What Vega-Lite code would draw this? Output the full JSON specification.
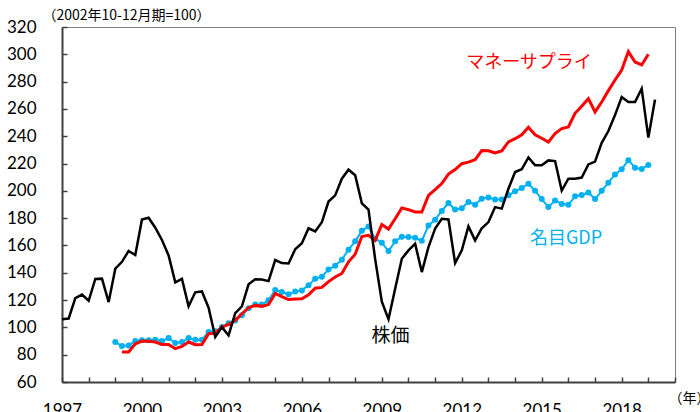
{
  "$schema": "https://vega.github.io/schema/vega-lite/v6.json",
  "width": 613,
  "height": 355,
  "autosize": {"type": "none"},
  "padding": {"left": 62, "top": 27, "right": 25, "bottom": 30},
  "background": "white",
  "config": {
    "view": {"stroke": "#808080", "strokeWidth": 1},
    "axis": {"grid": false}
  },
  "datasets": {
    "stock": [
      {"t":1997.0,"v":106},{"t":1997.25,"v":106.5},{"t":1997.5,"v":121.5},{"t":1997.75,"v":124},
      {"t":1998.0,"v":119.5},{"t":1998.25,"v":135.5},{"t":1998.5,"v":135.7},{"t":1998.75,"v":118.5},
      {"t":1999.0,"v":143},{"t":1999.25,"v":148},{"t":1999.5,"v":156},{"t":1999.75,"v":153},
      {"t":2000.0,"v":179},{"t":2000.25,"v":180.3},{"t":2000.5,"v":173},{"t":2000.75,"v":164},
      {"t":2001.0,"v":152.7},{"t":2001.25,"v":133},{"t":2001.5,"v":135.5},{"t":2001.75,"v":115.5},
      {"t":2002.0,"v":125.7},{"t":2002.25,"v":126.3},{"t":2002.5,"v":114.4},{"t":2002.75,"v":93},
      {"t":2003.0,"v":100.2},{"t":2003.25,"v":94.1},{"t":2003.5,"v":110.5},{"t":2003.75,"v":115.4},
      {"t":2004.0,"v":131.5},{"t":2004.25,"v":135.2},{"t":2004.5,"v":135},{"t":2004.75,"v":133.9},
      {"t":2005.0,"v":149.3},{"t":2005.25,"v":147.1},{"t":2005.5,"v":146.8},{"t":2005.75,"v":157.2},
      {"t":2006.0,"v":161.6},{"t":2006.25,"v":172.6},{"t":2006.5,"v":170.3},{"t":2006.75,"v":177.1},
      {"t":2007.0,"v":192.2},{"t":2007.25,"v":196.7},{"t":2007.5,"v":208.9},{"t":2007.75,"v":215.5},
      {"t":2008.0,"v":211.4},{"t":2008.25,"v":190.8},{"t":2008.5,"v":186.2},{"t":2008.75,"v":150},
      {"t":2009.0,"v":118.8},{"t":2009.25,"v":106},{"t":2009.5,"v":128.3},{"t":2009.75,"v":150.3},
      {"t":2010.0,"v":156.4},{"t":2010.25,"v":161.3},{"t":2010.5,"v":140.5},{"t":2010.75,"v":158.8},
      {"t":2011.0,"v":172.3},{"t":2011.25,"v":179.6},{"t":2011.5,"v":179.1},{"t":2011.75,"v":147.1},
      {"t":2012.0,"v":156.4},{"t":2012.25,"v":174},{"t":2012.5,"v":163.7},{"t":2012.75,"v":172.6},
      {"t":2013.0,"v":177.1},{"t":2013.25,"v":188.1},{"t":2013.5,"v":187},{"t":2013.75,"v":201.5},
      {"t":2014.0,"v":213.8},{"t":2014.25,"v":215.8},{"t":2014.5,"v":224.5},{"t":2014.75,"v":218.7},
      {"t":2015.0,"v":218.7},{"t":2015.25,"v":222.3},{"t":2015.5,"v":221.8},{"t":2015.75,"v":200.2},
      {"t":2016.0,"v":208.9},{"t":2016.25,"v":208.9},{"t":2016.5,"v":209.7},{"t":2016.75,"v":219.4},
      {"t":2017.0,"v":221.4},{"t":2017.25,"v":235.2},{"t":2017.5,"v":243.8},{"t":2017.75,"v":255.5},
      {"t":2018.0,"v":268.7},{"t":2018.25,"v":265.1},{"t":2018.5,"v":265.1},{"t":2018.75,"v":274.9},
      {"t":2019.0,"v":239},{"t":2019.25,"v":266.8}
    ],
    "money": [
      {"t":1999.25,"v":82},{"t":1999.5,"v":82},{"t":1999.75,"v":88},
      {"t":2000.0,"v":90},{"t":2000.25,"v":89.8},{"t":2000.5,"v":89.3},{"t":2000.75,"v":87.5},
      {"t":2001.0,"v":87.5},{"t":2001.25,"v":84.4},{"t":2001.5,"v":86},{"t":2001.75,"v":89.3},
      {"t":2002.0,"v":87.3},{"t":2002.25,"v":87.5},{"t":2002.5,"v":95.4},{"t":2002.75,"v":95.8},
      {"t":2003.0,"v":100.2},{"t":2003.25,"v":102.2},{"t":2003.5,"v":105.1},{"t":2003.75,"v":110},
      {"t":2004.0,"v":114.4},{"t":2004.25,"v":116.1},{"t":2004.5,"v":115.4},{"t":2004.75,"v":116.8},
      {"t":2005.0,"v":124.9},{"t":2005.25,"v":122.5},{"t":2005.5,"v":120.4},{"t":2005.75,"v":120.8},
      {"t":2006.0,"v":121},{"t":2006.25,"v":123.8},{"t":2006.5,"v":128.7},{"t":2006.75,"v":129.3},
      {"t":2007.0,"v":133.5},{"t":2007.25,"v":136.9},{"t":2007.5,"v":139.5},{"t":2007.75,"v":148},
      {"t":2008.0,"v":153.5},{"t":2008.25,"v":166.5},{"t":2008.5,"v":167.4},{"t":2008.75,"v":163.7},
      {"t":2009.0,"v":175.3},{"t":2009.25,"v":172},{"t":2009.5,"v":179.6},{"t":2009.75,"v":187.5},
      {"t":2010.0,"v":186.2},{"t":2010.25,"v":184.5},{"t":2010.5,"v":184.5},{"t":2010.75,"v":196.7},
      {"t":2011.0,"v":200.9},{"t":2011.25,"v":205.3},{"t":2011.5,"v":212.3},{"t":2011.75,"v":215.6},
      {"t":2012.0,"v":219.9},{"t":2012.25,"v":221},{"t":2012.5,"v":222.8},{"t":2012.75,"v":229.5},
      {"t":2013.0,"v":229.4},{"t":2013.25,"v":227.8},{"t":2013.5,"v":229.2},{"t":2013.75,"v":235.8},
      {"t":2014.0,"v":238.2},{"t":2014.25,"v":241},{"t":2014.5,"v":246.5},{"t":2014.75,"v":241},
      {"t":2015.0,"v":238.5},{"t":2015.25,"v":235.8},{"t":2015.5,"v":241.9},{"t":2015.75,"v":245.6},
      {"t":2016.0,"v":246.8},{"t":2016.25,"v":256.8},{"t":2016.5,"v":261.9},{"t":2016.75,"v":267.5},
      {"t":2017.0,"v":257.8},{"t":2017.25,"v":265.1},{"t":2017.5,"v":273.4},{"t":2017.75,"v":281.2},
      {"t":2018.0,"v":288.5},{"t":2018.25,"v":302},{"t":2018.5,"v":294.4},{"t":2018.75,"v":292.2},
      {"t":2019.0,"v":300}
    ],
    "gdp": [
      {"t":1999.0,"v":89.3},{"t":1999.25,"v":86.3},{"t":1999.5,"v":86.8},{"t":1999.75,"v":90},
      {"t":2000.0,"v":90.5},{"t":2000.25,"v":90.5},{"t":2000.5,"v":91},{"t":2000.75,"v":90},
      {"t":2001.0,"v":92.2},{"t":2001.25,"v":88.5},{"t":2001.5,"v":89.3},{"t":2001.75,"v":92.2},
      {"t":2002.0,"v":91},{"t":2002.25,"v":91},{"t":2002.5,"v":96.6},{"t":2002.75,"v":97.1},
      {"t":2003.0,"v":100.2},{"t":2003.25,"v":103.1},{"t":2003.5,"v":105.1},{"t":2003.75,"v":108.8},
      {"t":2004.0,"v":114.1},{"t":2004.25,"v":116.8},{"t":2004.5,"v":116.8},{"t":2004.75,"v":119.8},
      {"t":2005.0,"v":127.4},{"t":2005.25,"v":125.9},{"t":2005.5,"v":124.2},{"t":2005.75,"v":126.2},
      {"t":2006.0,"v":127.1},{"t":2006.25,"v":130.8},{"t":2006.5,"v":135.7},{"t":2006.75,"v":137.1},
      {"t":2007.0,"v":142.4},{"t":2007.25,"v":145.2},{"t":2007.5,"v":149.6},{"t":2007.75,"v":156.9},
      {"t":2008.0,"v":163},{"t":2008.25,"v":170.8},{"t":2008.5,"v":173.8},{"t":2008.75,"v":165},
      {"t":2009.0,"v":162},{"t":2009.25,"v":155.9},{"t":2009.5,"v":163},{"t":2009.75,"v":166.4},
      {"t":2010.0,"v":166.2},{"t":2010.25,"v":165.6},{"t":2010.5,"v":163.4},{"t":2010.75,"v":174.7},
      {"t":2011.0,"v":178.9},{"t":2011.25,"v":185.3},{"t":2011.5,"v":191.1},{"t":2011.75,"v":186.3},
      {"t":2012.0,"v":187.2},{"t":2012.25,"v":191.8},{"t":2012.5,"v":189.8},{"t":2012.75,"v":194.3},
      {"t":2013.0,"v":195.2},{"t":2013.25,"v":193.6},{"t":2013.5,"v":193.6},{"t":2013.75,"v":196.7},
      {"t":2014.0,"v":199.7},{"t":2014.25,"v":202},{"t":2014.5,"v":205.2},{"t":2014.75,"v":200.1},
      {"t":2015.0,"v":194},{"t":2015.25,"v":188.1},{"t":2015.5,"v":193},{"t":2015.75,"v":190.4},
      {"t":2016.0,"v":189.8},{"t":2016.25,"v":196},{"t":2016.5,"v":197},{"t":2016.75,"v":198.8},
      {"t":2017.0,"v":194},{"t":2017.25,"v":200},{"t":2017.5,"v":206},{"t":2017.75,"v":212},
      {"t":2018.0,"v":215.8},{"t":2018.25,"v":222.5},{"t":2018.5,"v":217},{"t":2018.75,"v":216},
      {"t":2019.0,"v":219}
    ]
  },
  "encoding": {
    "x": {
      "field": "t", "type": "quantitative",
      "scale": {"domain": [1997, 2020], "nice": false, "zero": false},
      "axis": {
        "values": [1997,1998,1999,2000,2001,2002,2003,2004,2005,2006,2007,2008,2009,2010,2011,2012,2013,2014,2015,2016,2017,2018,2019,2020],
        "labelExpr": "(datum.value - 1997) % 3 == 0 ? '' + datum.value : ''",
        "tickSize": -5, "tickColor": "#404040", "tickWidth": 1.5,
        "domainColor": "#404040", "domainWidth": 2,
        "labelFont": "Lato", "labelFontSize": 17, "labelColor": "#000000",
        "labelPadding": 25, "labelFlush": false, "labelOverlap": false,
        "title": "（年）", "titleFont": "Noto Sans CJK JP", "titleFontSize": 14, "titleFontWeight": "normal",
        "titleColor": "#000000", "titleAnchor": "start", "titleAlign": "left", "titleBaseline": "middle",
        "titleX": 606, "titleY": 16
      }
    },
    "y": {
      "field": "v", "type": "quantitative",
      "scale": {"domain": [60, 320], "nice": false, "zero": false},
      "axis": {
        "values": [60,80,100,120,140,160,180,200,220,240,260,280,300,320],
        "tickSize": -5, "tickColor": "#404040", "tickWidth": 1.5,
        "domainColor": "#404040", "domainWidth": 2,
        "labelFont": "Lato", "labelFontSize": 17, "labelColor": "#000000",
        "labelPadding": 31, "labelFlush": false, "labelOverlap": false,
        "title": "（2002年10-12月期=100）", "titleFont": "Noto Sans CJK JP", "titleFontSize": 14,
        "titleFontWeight": "normal", "titleColor": "#000000", "titleAngle": 0,
        "titleAlign": "left", "titleBaseline": "middle", "titleX": -20, "titleY": -12
      }
    }
  },
  "layer": [
    {"data": {"name": "gdp"}, "mark": {"type": "line", "color": "#00B0F0", "strokeWidth": 2, "point": {"filled": true, "size": 36, "color": "#00B0F0"}}},
    {"data": {"name": "money"}, "mark": {"type": "line", "color": "#FF0000", "strokeWidth": 3}},
    {"data": {"name": "stock"}, "mark": {"type": "line", "color": "#000000", "strokeWidth": 2.5}},
    {"data": {"values": [{"t": 2014.52, "v": 293.4, "label": "マネーサプライ"}]}, "mark": {"type": "text", "color": "#FF0000", "font": "Noto Sans CJK JP", "fontSize": 18, "align": "center", "baseline": "middle"}, "encoding": {"text": {"field": "label"}}},
    {"data": {"values": [{"t": 2015.91, "v": 164.5, "label": "名目GDP"}]}, "mark": {"type": "text", "color": "#00B0F0", "font": "Noto Sans CJK JP", "fontSize": 18, "align": "center", "baseline": "middle"}, "encoding": {"text": {"field": "label"}}},
    {"data": {"values": [{"t": 2009.33, "v": 93.4, "label": "株価"}]}, "mark": {"type": "text", "color": "#000000", "font": "Noto Sans CJK JP", "fontSize": 19, "align": "center", "baseline": "middle"}, "encoding": {"text": {"field": "label"}}}
  ]
}
